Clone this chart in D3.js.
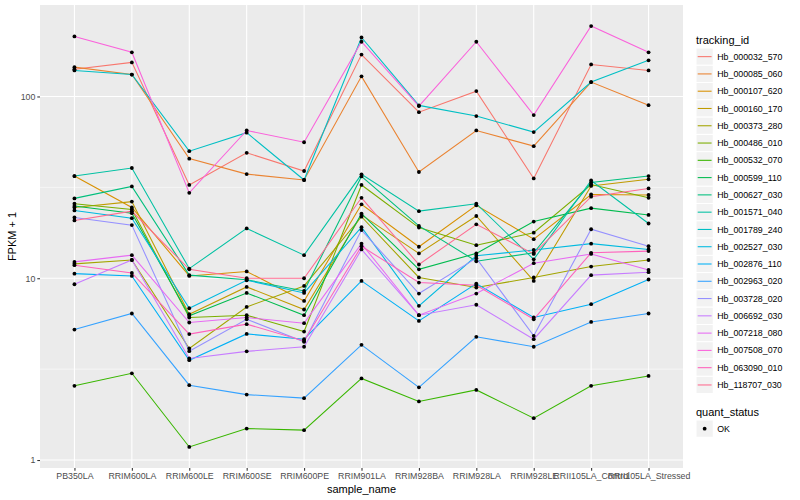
<!DOCTYPE html>
<html>
<head>
<meta charset="utf-8">
<script src="https://cdn.jsdelivr.net/npm/d3@7"></script>
<style>
  body { margin: 0; background: #fff; }
  text { font-family: "Liberation Sans", Arial, sans-serif; }
</style>
</head>
<body>
<div id="my_dataviz"></div>
<script>
// categories on the x axis
var samples = ["PB350LA", "RRIM600LA", "RRIM600LE", "RRIM600SE", "RRIM600PE", "RRIM901LA",
  "RRIM928BA", "RRIM928LA", "RRIM928LE", "RRII105LA_Control", "RRII105LA_Stressed"];

// one array of FPKM + 1 per gene, same order as samples
var hb000032_570 = [141, 154, 32.6, 49, 38.9, 170, 82, 107, 35.4, 150, 139];
var hb000085_060 = [145, 132, 45.5, 37.4, 34.7, 129, 38.4, 65, 53.3, 120, 89.6];
var hb000107_620 = [36.5, 24.5, 10.3, 10.9, 7.5, 25.5, 14.9, 25.2, 16.4, 28.9, 28.7];
var hb000160_170 = [24.5, 26.4, 6.34, 8.96, 6.73, 22.3, 13.7, 22.0, 9.67, 32.2, 35.0];
var hb000373_280 = [12.0, 12.6, 4.11, 6.95, 9.07, 21.8, 10.1, 8.89, 10.1, 11.6, 12.6];
var hb000486_010 = [25.7, 23.9, 6.08, 6.26, 5.09, 32.6, 19.0, 15.2, 17.8, 32.8, 27.7];
var hb000532_070 = [2.56, 3.0, 1.18, 1.49, 1.46, 2.81, 2.10, 2.43, 1.70, 2.56, 2.90];
var hb000599_110 = [25.0, 22.8, 6.21, 8.30, 6.26, 22.7, 11.2, 13.7, 20.5, 24.3, 22.3];
var hb000627_030 = [27.5, 32.0, 10.4, 9.8, 8.51, 36.3, 19.4, 12.4, 13.8, 33.6, 36.5];
var hb001571_040 = [36.5, 40.4, 11.3, 18.8, 13.4, 37.3, 23.4, 25.7, 12.7, 34.5, 20.0];
var hb001789_240 = [139, 132, 50, 63.2, 34.7, 211, 89.3, 78, 63.7, 120, 158];
var hb002527_030 = [23.6, 21.4, 6.84, 9.75, 8.30, 19.1, 7.05, 13.3, 14.3, 15.5, 14.4];
var hb002876_110 = [10.6, 10.3, 3.54, 4.94, 4.62, 9.67, 5.82, 9.35, 6.08, 7.2, 9.84];
var hb002963_020 = [5.22, 6.4, 2.58, 2.29, 2.19, 4.3, 2.51, 4.76, 4.2, 5.75, 6.4];
var hb003728_020 = [21.6, 19.6, 3.97, 5.95, 4.47, 18.4, 8.24, 12.9, 4.82, 18.6, 15.0];
var hb006692_030 = [9.27, 12.6, 3.62, 3.96, 4.2, 14.4, 6.26, 7.15, 4.62, 10.4, 10.8];
var hb007218_080 = [12.3, 13.4, 5.71, 6.08, 5.66, 15.5, 6.26, 8.24, 12.1, 13.6, 11.1];
var hb007508_070 = [214, 175, 29.5, 65, 56, 200, 88.5, 200, 79, 244, 175];
var hb063090_010 = [11.8, 10.7, 4.93, 5.59, 4.52, 15.0, 9.47, 9.16, 5.95, 13.8, 14.1];
var hb118707_030 = [20.8, 23.4, 11.2, 10.0, 10.0, 27.7, 11.9, 19.8, 13.6, 28.1, 31.2];

var trackingIds = ["Hb_000032_570", "Hb_000085_060", "Hb_000107_620", "Hb_000160_170",
  "Hb_000373_280", "Hb_000486_010", "Hb_000532_070", "Hb_000599_110", "Hb_000627_030",
  "Hb_001571_040", "Hb_001789_240", "Hb_002527_030", "Hb_002876_110", "Hb_002963_020",
  "Hb_003728_020", "Hb_006692_030", "Hb_007218_080", "Hb_007508_070", "Hb_063090_010",
  "Hb_118707_030"];
var seriesValues = [hb000032_570, hb000085_060, hb000107_620, hb000160_170, hb000373_280,
  hb000486_010, hb000532_070, hb000599_110, hb000627_030, hb001571_040, hb001789_240,
  hb002527_030, hb002876_110, hb002963_020, hb003728_020, hb006692_030, hb007218_080,
  hb007508_070, hb063090_010, hb118707_030];

var yTicks = [1, 10, 100];
var yMinor = [Math.sqrt(10), Math.sqrt(1000)];
var quantStatus = ["OK"];

// ggplot hue palette, 20 levels
var palette = ["#F8766D", "#EA8331", "#D89000", "#C09B00", "#A3A500", "#7CAE00", "#39B600",
  "#00BB4E", "#00BF7D", "#00C1A3", "#00BFC4", "#00BAE0", "#00B0F6", "#35A2FF", "#9590FF",
  "#C77CFF", "#E76BF3", "#FA62DB", "#FF62BC", "#FF6C91"];

var series = trackingIds.map(function(id, i) {
  return {id: id, values: seriesValues[i].map(function(v, j) { return {sample: samples[j], v: v}; })};
});

var W = 800, H = 500;
var margin = {top: 5, right: 117, bottom: 32, left: 40},
    width = W - margin.left - margin.right,
    height = H - margin.top - margin.bottom;

var svg = d3.select("#my_dataviz")
  .append("svg")
    .attr("width", W)
    .attr("height", H);

var g = svg.append("g")
    .attr("transform", "translate(" + margin.left + "," + margin.top + ")");

// x: discrete with ggplot's 0.6 expansion
var x = d3.scalePoint()
  .domain(samples)
  .range([0, width])
  .padding(0.6);

// y: log10 with 5% expansion
var all = d3.merge(seriesValues);
var lo = Math.log10(d3.min(all)), hi = Math.log10(d3.max(all));
var pad = (hi - lo) * 0.05;
var y = d3.scaleLog()
  .domain([Math.pow(10, lo - pad), Math.pow(10, hi + pad)])
  .range([height, 0]);

// panel
g.append("rect")
  .attr("width", width)
  .attr("height", height)
  .attr("fill", "#EBEBEB");

g.selectAll(".minor")
  .data(yMinor)
  .enter()
  .append("line")
    .attr("x1", 0).attr("x2", width)
    .attr("y1", function(d) { return y(d); })
    .attr("y2", function(d) { return y(d); })
    .attr("stroke", "#fff")
    .attr("stroke-width", 0.55);

g.selectAll(".major")
  .data(yTicks)
  .enter()
  .append("line")
    .attr("x1", 0).attr("x2", width)
    .attr("y1", function(d) { return y(d); })
    .attr("y2", function(d) { return y(d); })
    .attr("stroke", "#fff")
    .attr("stroke-width", 1.1);

g.selectAll(".vgrid")
  .data(samples)
  .enter()
  .append("line")
    .attr("x1", function(d) { return x(d); })
    .attr("x2", function(d) { return x(d); })
    .attr("y1", 0).attr("y2", height)
    .attr("stroke", "#fff")
    .attr("stroke-width", 1.1);

// axes
var xAxis = g.append("g")
  .attr("transform", "translate(0," + height + ")")
  .call(d3.axisBottom(x).tickSize(2.7).tickPadding(2));
var yAxis = g.append("g")
  .call(d3.axisLeft(y).tickValues(yTicks).tickFormat(d3.format("d")).tickSize(2.7).tickPadding(2));

[xAxis, yAxis].forEach(function(a) {
  a.select(".domain").remove();
  a.selectAll(".tick line").attr("stroke", "#333").attr("stroke-width", 1.07);
  a.selectAll(".tick text")
    .attr("fill", "#4D4D4D")
    .style("font-size", "8.8px")
    .style("font-family", "'Liberation Sans', Arial, sans-serif");
});

// lines
var line = d3.line()
  .x(function(d) { return x(d.sample); })
  .y(function(d) { return y(d.v); });

g.selectAll(".series")
  .data(series)
  .enter()
  .append("path")
    .attr("d", function(d) { return line(d.values); })
    .attr("fill", "none")
    .attr("stroke", function(d, i) { return palette[i]; })
    .attr("stroke-width", 1.07);

// points
g.selectAll(".pt")
  .data(d3.merge(series.map(function(s) { return s.values; })))
  .enter()
  .append("circle")
    .attr("cx", function(d) { return x(d.sample); })
    .attr("cy", function(d) { return y(d.v); })
    .attr("r", 1.9)
    .attr("fill", "#000");

// axis titles
svg.append("text")
  .attr("x", margin.left + width / 2)
  .attr("y", 493)
  .attr("text-anchor", "middle")
  .style("font-size", "11px")
  .text("sample_name");

svg.append("text")
  .attr("transform", "translate(16," + (margin.top + height / 2) + ") rotate(-90)")
  .attr("text-anchor", "middle")
  .style("font-size", "11px")
  .text("FPKM + 1");

// legend: tracking_id
var keySize = 17.28;
var lx = 696, ly = 48;
var legend = svg.append("g");

legend.append("text")
  .attr("x", lx)
  .attr("y", 44)
  .style("font-size", "11px")
  .text("tracking_id");

var keys = legend.selectAll(".key")
  .data(trackingIds)
  .enter()
  .append("g")
    .attr("transform", function(d, i) { return "translate(" + lx + "," + (ly + i * keySize) + ")"; });

keys.append("rect")
  .attr("width", keySize)
  .attr("height", keySize)
  .attr("fill", "#F2F2F2")
  .attr("stroke", "#fff");

keys.append("line")
  .attr("x1", 1.7).attr("x2", keySize - 1.7)
  .attr("y1", keySize / 2).attr("y2", keySize / 2)
  .attr("stroke", function(d, i) { return palette[i]; })
  .attr("stroke-width", 1.07);

keys.append("text")
  .attr("x", keySize + 4)
  .attr("y", keySize / 2)
  .attr("dy", "0.35em")
  .style("font-size", "8.8px")
  .text(function(d) { return d; });

// legend: quant_status
legend.append("text")
  .attr("x", lx)
  .attr("y", 416)
  .style("font-size", "11px")
  .text("quant_status");

var qkeys = legend.selectAll(".qkey")
  .data(quantStatus)
  .enter()
  .append("g")
    .attr("transform", function(d, i) { return "translate(" + lx + "," + (420 + i * keySize) + ")"; });

qkeys.append("rect")
  .attr("width", keySize)
  .attr("height", keySize)
  .attr("fill", "#F2F2F2")
  .attr("stroke", "#fff");

qkeys.append("circle")
  .attr("cx", keySize / 2)
  .attr("cy", keySize / 2)
  .attr("r", 1.9)
  .attr("fill", "#000");

qkeys.append("text")
  .attr("x", keySize + 4)
  .attr("y", keySize / 2)
  .attr("dy", "0.35em")
  .style("font-size", "8.8px")
  .text(function(d) { return d; });
</script>
</body>
</html>
